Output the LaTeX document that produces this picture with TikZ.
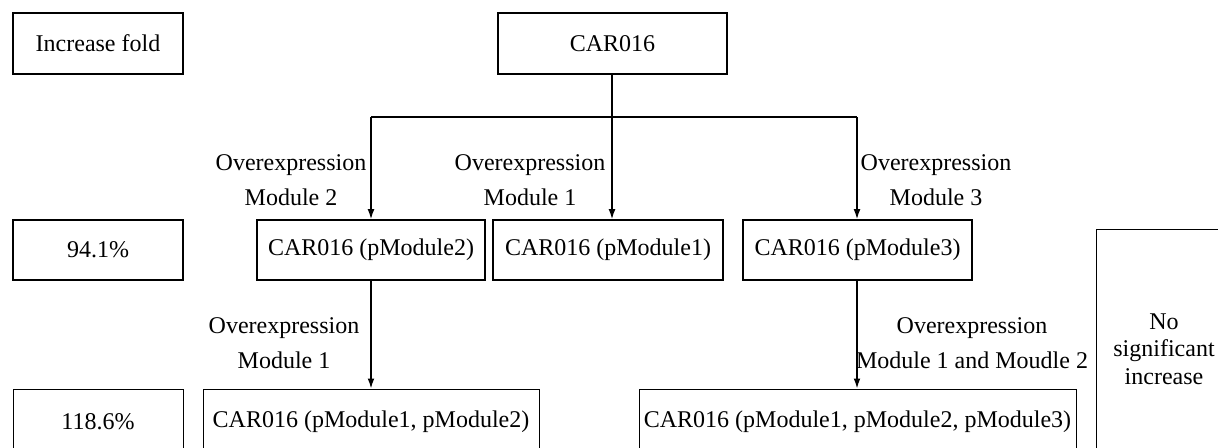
\documentclass[tikz,border=0pt]{standalone}
\usepackage{fontspec}
\setmainfont{Liberation Serif}
\usetikzlibrary{arrows.meta}
\begin{document}
\begin{tikzpicture}[x=0.5pt,y=-0.5pt,
  txt/.style={font=\fontsize{12}{17.5}\selectfont, inner sep=0pt, align=center},
  bx/.style={draw, line width=0.8pt, inner sep=0pt, font=\fontsize{12}{14}\selectfont, minimum height=30.5pt},
  bxthin/.style={bx, line width=0.5pt, minimum height=33pt},
  conn/.style={line width=0.7pt},
  arr/.style={conn, -{Latex[length=5pt,width=3.4pt]}}]
\fill[white] (0,0) rectangle (1218,447);
\clip (0,0) rectangle (1218,447);
% top row
\node[bx, minimum width=85pt] (fold) at (98,43.5) {Increase fold};
\node[bx, minimum width=114.5pt] (car) at (612.5,43.5) {CAR016};
% second row
\node[bx, minimum width=85pt, minimum height=30pt] (p941) at (98,250) {94.1\%};
\node[bx, minimum width=114pt, minimum height=30pt] (pm2) at (371,250) {CAR016 (pModule2)};
\node[bx, minimum width=115pt, minimum height=30pt] (pm1) at (608,250) {CAR016 (pModule1)};
\node[bx, minimum width=114.5pt, minimum height=30pt] (pm3) at (857.5,250) {CAR016 (pModule3)};
% third row (cut by the lower edge)
\node[bxthin, minimum width=85pt] (p1186) at (98,422) {118.6\%};
\node[bxthin, minimum width=168pt] (pm12) at (371,422) {CAR016 (pModule1, pModule2)};
\node[bxthin, minimum width=218.5pt] (pm123) at (857.5,422) {CAR016 (pModule1, pModule2, pModule3)};
% right box (cut by the right and lower edges)
\coordinate (rb) at (1096,229);
\draw[line width=0.5pt] (1096,470) -- (rb) -- (1240,229);
\node[txt, font=\fontsize{12}{13.75}\selectfont] (nosig) at (1164,349) {No\\significant\\increase};
% connectors
\coordinate (j) at (612,117);
\coordinate (jl) at (371,117);
\coordinate (jr) at (857,117);
\draw[conn] (car.south -| j) -- (j);
\draw[conn] (jl) -- (jr);
\draw[arr] (jl) -- (jl |- pm2.north);
\draw[arr] (j) -- (j |- pm1.north);
\draw[arr] (jr) -- (jr |- pm3.north);
\draw[arr] (pm2.south) -- (pm12.north);
\draw[arr] (pm3.south -| jr) -- (jr |- pm123.north);
% labels
\node[txt] (l2) at (291,180.5) {Overexpression\\Module 2};
\node[txt] (l1) at (530,180.5) {Overexpression\\Module 1};
\node[txt] (l3) at (936,180.5) {Overexpression\\Module 3};
\node[txt] (l21) at (284,343) {Overexpression\\Module 1};
\node[txt] (l312) at (972,343) {Overexpression\\Module 1 and Moudle 2};
\end{tikzpicture}
\end{document}
